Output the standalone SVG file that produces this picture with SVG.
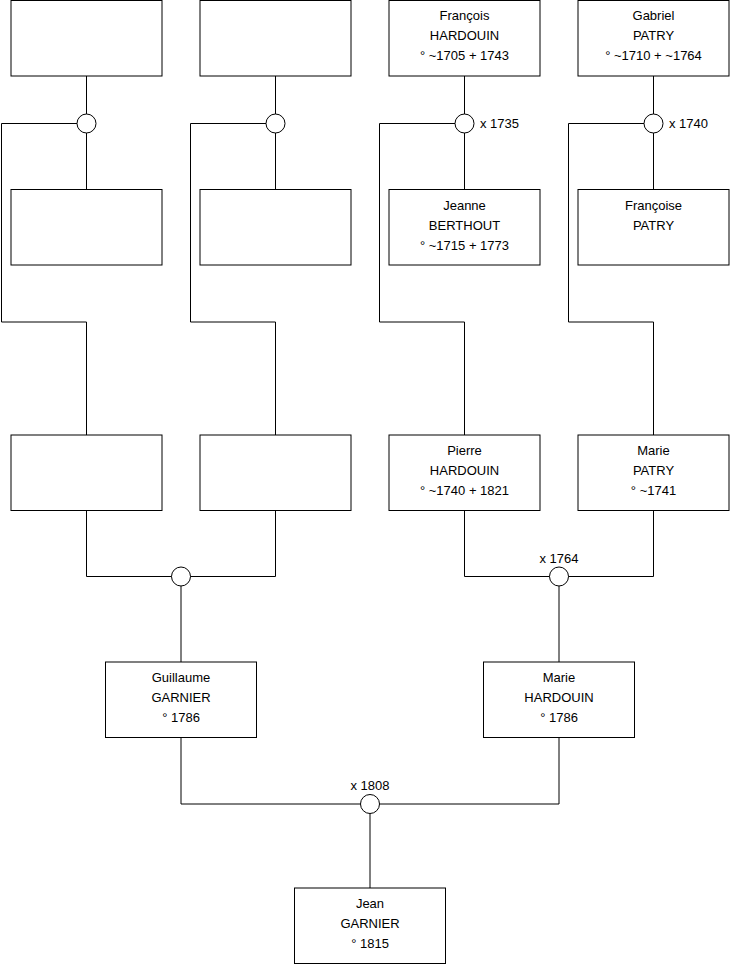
<svg xmlns="http://www.w3.org/2000/svg" width="740" height="975" viewBox="0 0 740 975">
<style>
.box{fill:#fff;stroke:#000;stroke-width:1}
.ln{fill:none;stroke:#000;stroke-width:1}
.j{fill:#fff;stroke:#000;stroke-width:1}
text{font-family:"Liberation Sans",Arial,sans-serif;font-size:13px;fill:#000}
.c{text-anchor:middle}
</style>
<rect width="740" height="975" fill="#fff"/>
<g id="connectors">
<path class="ln" d="M86.5 76 V189.5 M77 123.5 H1.5 V322 H86.5 V435"/>
<path class="ln" d="M275.5 76 V189.5 M266 123.5 H190.5 V322 H275.5 V435"/>
<path class="ln" d="M464.5 76 V189.5 M455 123.5 H379.5 V322 H464.5 V435"/>
<path class="ln" d="M653.5 76 V189.5 M644 123.5 H568.5 V322 H653.5 V435"/>
<path class="ln" d="M86.5 510.5 V576.5 H275.5 V510.5 M181 576.5 V662"/>
<path class="ln" d="M464.5 510.5 V576.5 H653.5 V510.5 M559 576.5 V662"/>
<path class="ln" d="M181 737.5 V804 H559 V737.5 M370 804 V888"/>
<circle class="j" cx="86.5" cy="123.5" r="9.5"/>
<circle class="j" cx="275.5" cy="123.5" r="9.5"/>
<circle class="j" cx="464.5" cy="123.5" r="9.5"/>
<circle class="j" cx="653.5" cy="123.5" r="9.5"/>
<circle class="j" cx="181" cy="576.5" r="9.5"/>
<circle class="j" cx="559" cy="576.5" r="9.5"/>
<circle class="j" cx="370" cy="804" r="9.5"/>
<text x="480" y="128">x 1735</text>
<text x="669" y="128">x 1740</text>
<text class="c" x="559" y="563">x 1764</text>
<text class="c" x="370" y="790">x 1808</text>
</g>
<g id="n1"><rect class="box" x="11" y="0.5" width="151" height="75.5"/></g>
<g id="n2"><rect class="box" x="200" y="0.5" width="151" height="75.5"/></g>
<g id="n3"><rect class="box" x="389" y="0.5" width="151" height="75.5"/>
<text class="c" x="464.5" y="20">François</text><text class="c" x="464.5" y="40">HARDOUIN</text><text class="c" x="464.5" y="60">° ~1705 + 1743</text></g>
<g id="n4"><rect class="box" x="578" y="0.5" width="151" height="75.5"/>
<text class="c" x="653.5" y="20">Gabriel</text><text class="c" x="653.5" y="40">PATRY</text><text class="c" x="653.5" y="60">° ~1710 + ~1764</text></g>
<g id="n5"><rect class="box" x="11" y="189.5" width="151" height="75.5"/></g>
<g id="n6"><rect class="box" x="200" y="189.5" width="151" height="75.5"/></g>
<g id="n7"><rect class="box" x="389" y="189.5" width="151" height="75.5"/>
<text class="c" x="464.5" y="210">Jeanne</text><text class="c" x="464.5" y="230">BERTHOUT</text><text class="c" x="464.5" y="250">° ~1715 + 1773</text></g>
<g id="n8"><rect class="box" x="578" y="189.5" width="151" height="75.5"/>
<text class="c" x="653.5" y="210">Françoise</text><text class="c" x="653.5" y="230">PATRY</text></g>
<g id="n9"><rect class="box" x="11" y="435" width="151" height="75.5"/></g>
<g id="n10"><rect class="box" x="200" y="435" width="151" height="75.5"/></g>
<g id="n11"><rect class="box" x="389" y="435" width="151" height="75.5"/>
<text class="c" x="464.5" y="455">Pierre</text><text class="c" x="464.5" y="475">HARDOUIN</text><text class="c" x="464.5" y="495">° ~1740 + 1821</text></g>
<g id="n12"><rect class="box" x="578" y="435" width="151" height="75.5"/>
<text class="c" x="653.5" y="455">Marie</text><text class="c" x="653.5" y="475">PATRY</text><text class="c" x="653.5" y="495">° ~1741</text></g>
<g id="n13"><rect class="box" x="105.5" y="662" width="151" height="75.5"/>
<text class="c" x="181" y="682">Guillaume</text><text class="c" x="181" y="702">GARNIER</text><text class="c" x="181" y="722">° 1786</text></g>
<g id="n14"><rect class="box" x="483.5" y="662" width="151" height="75.5"/>
<text class="c" x="559" y="682">Marie</text><text class="c" x="559" y="702">HARDOUIN</text><text class="c" x="559" y="722">° 1786</text></g>
<g id="n15"><rect class="box" x="294.5" y="888" width="151" height="75.5"/>
<text class="c" x="370" y="908">Jean</text><text class="c" x="370" y="928">GARNIER</text><text class="c" x="370" y="948">° 1815</text></g>
</svg>
